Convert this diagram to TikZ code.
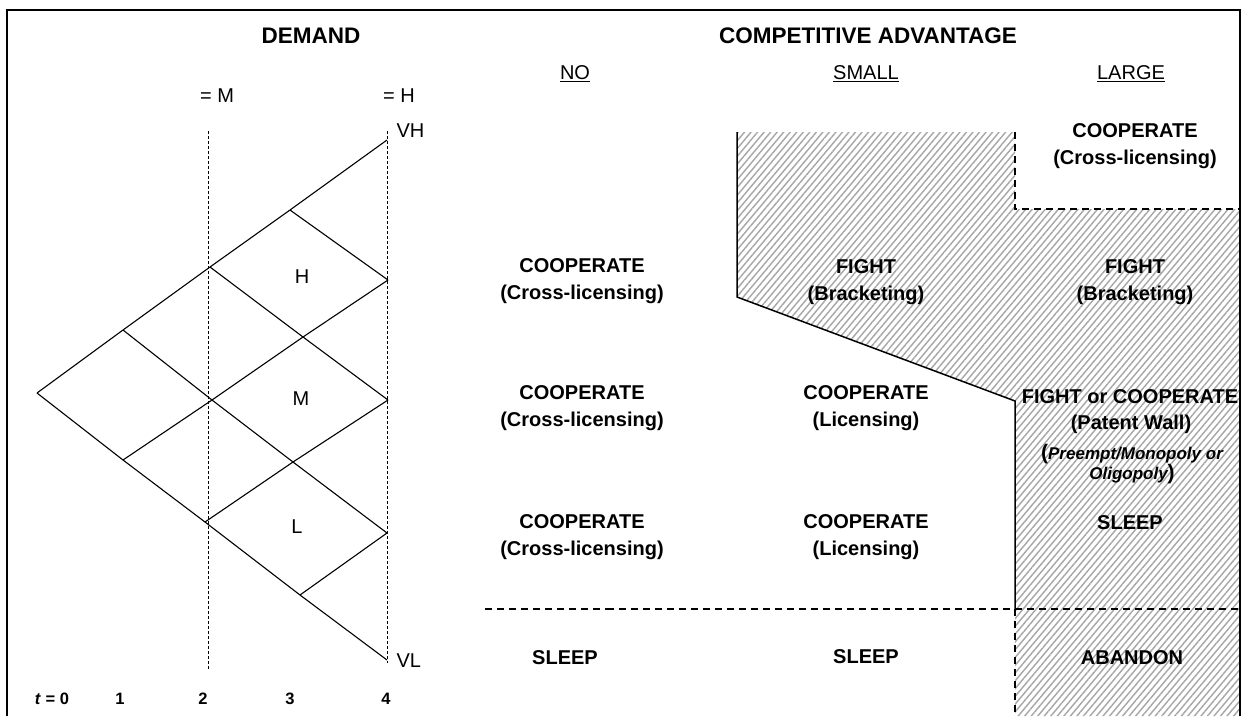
\documentclass[tikz,border=0pt]{standalone}
\usepackage{fontspec}
\setmainfont{Liberation Sans}
\usetikzlibrary{patterns.meta}
\begin{document}
\begin{tikzpicture}[x=1pt,y=-1pt,
  tree/.style={line width=1.1pt},
  vdot/.style={line width=0.9pt, dash pattern=on 3pt off 2pt},
  bnd/.style={line width=1.5pt},
  bnddash/.style={line width=1.5pt, dash pattern=on 7pt off 5pt},
  hatch/.style={pattern={Lines[angle=50,distance=5pt,line width=1.4pt]}, pattern color=gray!70},
  title/.style={font=\fontsize{22.5}{26}\selectfont\bfseries},
  colhead/.style={font=\fontsize{20}{24}\selectfont},
  act/.style={font=\fontsize{20}{27}\selectfont\bfseries, align=center},
  lat/.style={font=\fontsize{20}{24}\selectfont},
  tlab/.style={font=\fontsize{16.5}{18}\selectfont\bfseries},
]
\useasboundingbox (0,0) rectangle (1246,716);
\fill[white] (0,0) rectangle (1246,716);

% shaded region
\coordinate (s1) at (737,132);
\coordinate (s2) at (1015,132);
\coordinate (s3) at (1015,209);
\coordinate (s4) at (1240,209);
\coordinate (s5) at (1240,716);
\coordinate (s6) at (1015,716);
\coordinate (s7) at (1015,401);
\coordinate (s8) at (737,297);
\coordinate (s9) at (1015,609);
\fill[hatch] (s1) -- (s2) -- (s3) -- (s4) -- (s5) -- (s6) -- (s7) -- (s8) -- cycle;
\draw[bnd] (s1) -- (s8) -- (s7) -- (s9);
\draw[bnddash] (s2) -- (s3) -- (s4);
\draw[bnddash] (s9) -- (s6);
\coordinate (h0) at (485,609);
\coordinate (h1) at (607,609);
\coordinate (h2) at (1240,609);
\draw[bnddash, line width=2.2pt] (h0) -- (h1);
\draw[bnddash] (h1) -- (s9) -- (h2);

% frame
\coordinate (f1) at (7,716);
\coordinate (f2) at (7,10);
\coordinate (f3) at (1240,10);
\coordinate (f4) at (1240,716);
\draw[line width=1.3pt] (f1) -- (f2) -- (f3) -- (f4);

% vertical dotted lines
\coordinate (v2t) at (208,131);
\coordinate (v2b) at (208,670);
\coordinate (v4t) at (387,131);
\coordinate (v4b) at (387,663);
\draw[vdot] (v2t) -- (v2b);
\draw[vdot] (v4t) -- (v4b);

% lattice
\coordinate (n0) at (37,393);
\coordinate (n1a) at (123,330);
\coordinate (n1b) at (123,460);
\coordinate (n2a) at (210,267);
\coordinate (n2b) at (212,400);
\coordinate (n2c) at (205,522);
\coordinate (n3a) at (290,210);
\coordinate (n3b) at (303,337);
\coordinate (n3c) at (293,462);
\coordinate (n3d) at (300,595);
\coordinate (n4a) at (387,140);
\coordinate (n4b) at (388,280);
\coordinate (n4c) at (388,400);
\coordinate (n4d) at (387,533);
\coordinate (n4e) at (387,660);
\draw[tree] (n0) -- (n1a) -- (n2a) -- (n3a) -- (n4a);
\draw[tree] (n1b) -- (n2b) -- (n3b) -- (n4b);
\draw[tree] (n2c) -- (n3c) -- (n4c);
\draw[tree] (n3d) -- (n4d);
\draw[tree] (n0) -- (n1b) -- (n2c) -- (n3d) -- (n4e);
\draw[tree] (n1a) -- (n2b) -- (n3c) -- (n4d);
\draw[tree] (n2a) -- (n3b) -- (n4c);
\draw[tree] (n3a) -- (n4b);

% titles
\node[title] (demand) at (311,36) {DEMAND};
\node[title] (compadv) at (868,36) {COMPETITIVE ADVANTAGE};
\node[colhead] (no) at (575,74) {\underline{NO}};
\node[colhead] (small) at (866,74) {\underline{SMALL}};
\node[colhead] (large) at (1131,74) {\underline{LARGE}};

% lattice labels
\node[lat] (eqm) at (217,96) {= M};
\node[lat] (eqh) at (399,96) {= H};
\node[lat, anchor=west] (vh) at (393,131) {VH};
\node[lat, anchor=west] (vl) at (393,661) {VL};
\node[lat] (lh) at (302,277) {H};
\node[lat] (lm) at (301,399) {M};
\node[lat] (ll) at (297,527) {L};

\node[tlab] (t0) at (52,699) {\textit{t} = 0};
\node[tlab] (t1) at (120,699) {1};
\node[tlab] (t2) at (203,699) {2};
\node[tlab] (t3) at (290,699) {3};
\node[tlab] (t4) at (386,699) {4};

% NO column
\node[act] (no1) at (582,281) {COOPERATE\\(Cross-licensing)};
\node[act] (no2) at (582,408) {COOPERATE\\(Cross-licensing)};
\node[act] (no3) at (582,537) {COOPERATE\\(Cross-licensing)};
\node[act] (no4) at (565,658) {SLEEP};

% SMALL column
\node[act] (sm1) at (866,282) {FIGHT\\(Bracketing)};
\node[act] (sm2) at (866,408) {COOPERATE\\(Licensing)};
\node[act] (sm3) at (866,537) {COOPERATE\\(Licensing)};
\node[act] (sm4) at (866,657) {SLEEP};

% LARGE column
\node[act] (lg1) at (1135,146) {COOPERATE\\(Cross-licensing)};
\node[act] (lg2) at (1135,282) {FIGHT\\(Bracketing)};
\node[act] (lg3) at (1130,397) {FIGHT or COOPERATE};
\node[act] (lg4) at (1131,424) {(Patent Wall)};
\node[align=center, inner sep=0pt, font=\fontsize{17}{15}\selectfont\bfseries\itshape] (lg5) at (1132,464)
  {{\upshape\fontsize{21}{15}\selectfont(}Preempt/Monopoly or\\Oligopoly{\upshape\fontsize{21}{15}\selectfont)}};
\node[act] (lg6) at (1130,523) {SLEEP};
\node[act] (lg7) at (1132,658) {ABANDON};
\end{tikzpicture}
\end{document}
